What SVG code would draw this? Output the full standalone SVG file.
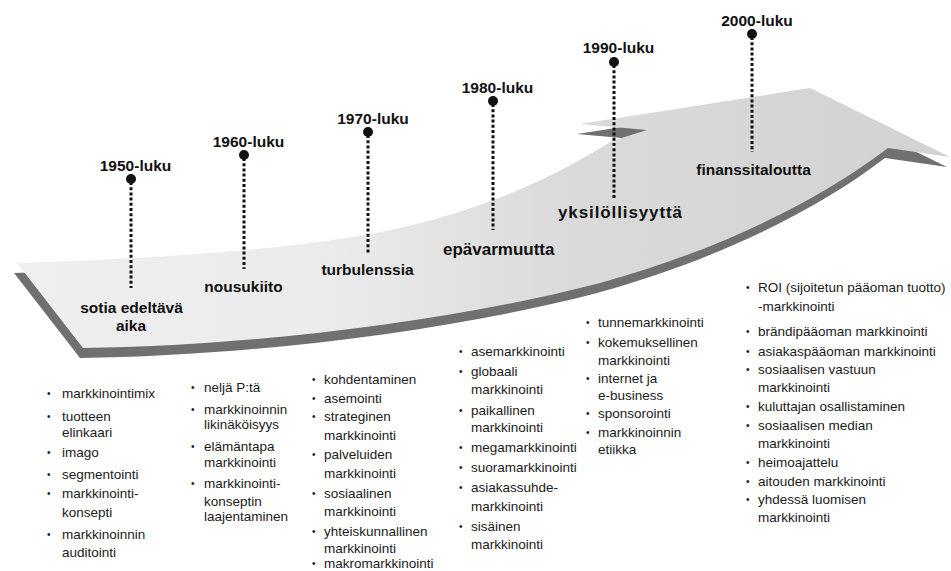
<svg xmlns="http://www.w3.org/2000/svg" xmlns:xlink="http://www.w3.org/1999/xlink" width="951" height="571" viewBox="0 0 951 571">
<defs>
<style>
.dec{font-family:"Liberation Sans",Arial,sans-serif;font-weight:bold;font-size:15.5px;fill:#111;text-anchor:middle}
.era{font-family:"Liberation Sans",Arial,sans-serif;font-weight:bold;font-size:15.5px;fill:#111;text-anchor:middle}
.eras{font-family:"Liberation Sans",Arial,sans-serif;font-weight:bold;font-size:17px;fill:#111}
.li{font-family:"Liberation Sans",Arial,sans-serif;font-size:13.5px;fill:#1a1a1a}
.bu{font-family:"Liberation Sans",Arial,sans-serif;font-size:10px;fill:#1a1a1a}
.dot{fill:#111}
.conn{stroke:#111;stroke-width:3;stroke-dasharray:3 2.2;fill:none}
</style>
<linearGradient id="surf" x1="0" y1="0" x2="951" y2="0" gradientUnits="userSpaceOnUse">
<stop offset="0" stop-color="#efefef"/>
<stop offset="0.35" stop-color="#ebebeb"/>
<stop offset="0.6" stop-color="#dadada"/>
<stop offset="1" stop-color="#d2d2d2"/>
</linearGradient>
<path id="arrowShape" d="M 17,263 C 150,259 300,250 400,228 C 480,210 550,180 612,141 L 647,130 L 580,124 L 810,88 L 950,157 L 888,148 C 820,200 720,250 600,283 C 450,322 250,346 83,348 Z"/>
</defs>
<rect width="951" height="571" fill="#ffffff"/>
<g id="arrow">
<use xlink:href="#arrowShape" fill="#707070" transform="translate(-3,10)"/>
<use xlink:href="#arrowShape" fill="url(#surf)"/>
</g>
<g id="connectors">
<line class="conn" x1="131" y1="182" x2="131" y2="288"/>
<line class="conn" x1="244" y1="158" x2="244" y2="269"/>
<line class="conn" x1="368" y1="135" x2="368" y2="253"/>
<line class="conn" x1="493" y1="104" x2="493" y2="230"/>
<line class="conn" x1="614" y1="65" x2="614" y2="198"/>
<line class="conn" x1="752" y1="37" x2="752" y2="152"/>
</g>
<g id="n1950">
<circle class="dot" cx="131" cy="179" r="5"/>
<text class="dec" x="135.5" y="171">1950-luku</text>
<text class="era" x="131.5" y="313">sotia edeltävä</text>
<text class="era" x="131" y="331">aika</text>
</g>
<g id="n1960">
<circle class="dot" cx="244" cy="155" r="5"/>
<text class="dec" x="248.5" y="147">1960-luku</text>
<text class="era" x="243.5" y="292">nousukiito</text>
</g>
<g id="n1970">
<circle class="dot" cx="368" cy="132" r="5"/>
<text class="dec" x="373" y="124">1970-luku</text>
<text class="era" x="367.5" y="275">turbulenssia</text>
</g>
<g id="n1980">
<circle class="dot" cx="493" cy="101" r="5"/>
<text class="dec" x="497.5" y="93">1980-luku</text>
<text class="eras" x="443" y="255">epävarmuutta</text>
</g>
<g id="n1990">
<circle class="dot" cx="614" cy="62" r="5"/>
<text class="dec" x="618.5" y="53">1990-luku</text>
<text class="eras" x="558" y="218" textLength="124">yksilöllisyyttä</text>
</g>
<g id="n2000">
<circle class="dot" cx="752" cy="34" r="5"/>
<text class="dec" x="757" y="26">2000-luku</text>
<text class="era" x="753.5" y="175">finanssitaloutta</text>
</g>
<g id="list1950">
<text class="bu" x="47" y="397">•</text><text class="li" x="62" y="398">markkinointimix</text>
<text class="bu" x="47" y="420">•</text><text class="li" x="62" y="421">tuotteen</text>
<text class="li" x="62" y="437">elinkaari</text>
<text class="bu" x="47" y="456">•</text><text class="li" x="62" y="457">imago</text>
<text class="bu" x="47" y="478">•</text><text class="li" x="62" y="479">segmentointi</text>
<text class="bu" x="47" y="497">•</text><text class="li" x="62" y="498">markkinointi-</text>
<text class="li" x="62" y="517">konsepti</text>
<text class="bu" x="47" y="538">•</text><text class="li" x="62" y="539">markkinoinnin</text>
<text class="li" x="62" y="557">auditointi</text>
</g>
<g id="list1960">
<text class="bu" x="191" y="391">•</text><text class="li" x="204" y="392">neljä P:tä</text>
<text class="bu" x="191" y="413">•</text><text class="li" x="204" y="414">markkinoinnin</text>
<text class="li" x="204" y="429">likinäköisyys</text>
<text class="bu" x="191" y="450">•</text><text class="li" x="204" y="451">elämäntapa</text>
<text class="li" x="204" y="467">markkinointi</text>
<text class="bu" x="191" y="487">•</text><text class="li" x="204" y="488">markkinointi-</text>
<text class="li" x="204" y="506">konseptin</text>
<text class="li" x="204" y="521">laajentaminen</text>
</g>
<g id="list1970">
<text class="bu" x="312" y="383">•</text><text class="li" x="324" y="384">kohdentaminen</text>
<text class="bu" x="312" y="402">•</text><text class="li" x="324" y="403">asemointi</text>
<text class="bu" x="312" y="420">•</text><text class="li" x="324" y="421">strateginen</text>
<text class="li" x="324" y="440">markkinointi</text>
<text class="bu" x="312" y="458">•</text><text class="li" x="324" y="459">palveluiden</text>
<text class="li" x="324" y="478">markkinointi</text>
<text class="bu" x="312" y="497">•</text><text class="li" x="324" y="498">sosiaalinen</text>
<text class="li" x="324" y="516">markkinointi</text>
<text class="bu" x="312" y="535">•</text><text class="li" x="324" y="536">yhteiskunnallinen</text>
<text class="li" x="324" y="553">markkinointi</text>
<text class="bu" x="312" y="567">•</text><text class="li" x="324" y="568">makromarkkinointi</text>
</g>
<g id="list1980">
<text class="bu" x="459" y="355">•</text><text class="li" x="471" y="356">asemarkkinointi</text>
<text class="bu" x="459" y="375">•</text><text class="li" x="471" y="376">globaali</text>
<text class="li" x="471" y="394">markkinointi</text>
<text class="bu" x="459" y="414">•</text><text class="li" x="471" y="415">paikallinen</text>
<text class="li" x="471" y="432">markkinointi</text>
<text class="bu" x="459" y="451">•</text><text class="li" x="471" y="452">megamarkkinointi</text>
<text class="bu" x="459" y="471">•</text><text class="li" x="471" y="472">suoramarkkinointi</text>
<text class="bu" x="459" y="491">•</text><text class="li" x="471" y="492">asiakassuhde-</text>
<text class="li" x="471" y="511">markkinointi</text>
<text class="bu" x="459" y="530">•</text><text class="li" x="471" y="531">sisäinen</text>
<text class="li" x="471" y="549">markkinointi</text>
</g>
<g id="list1990">
<text class="bu" x="586" y="326">•</text><text class="li" x="598" y="327">tunnemarkkinointi</text>
<text class="bu" x="586" y="346">•</text><text class="li" x="598" y="347">kokemuksellinen</text>
<text class="li" x="598" y="365">markkinointi</text>
<text class="bu" x="586" y="382">•</text><text class="li" x="598" y="383">internet ja</text>
<text class="li" x="598" y="400">e-business</text>
<text class="bu" x="586" y="417">•</text><text class="li" x="598" y="418">sponsorointi</text>
<text class="bu" x="586" y="436">•</text><text class="li" x="598" y="437">markkinoinnin</text>
<text class="li" x="598" y="454">etiikka</text>
</g>
<g id="list2000">
<text class="bu" x="746" y="291">•</text><text class="li" x="758" y="292">ROI (sijoitetun pääoman tuotto)</text>
<text class="li" x="758" y="311">-markkinointi</text>
<text class="bu" x="746" y="335">•</text><text class="li" x="758" y="336">brändipääoman markkinointi</text>
<text class="bu" x="746" y="355">•</text><text class="li" x="758" y="356">asiakaspääoman markkinointi</text>
<text class="bu" x="746" y="373">•</text><text class="li" x="758" y="374">sosiaalisen vastuun</text>
<text class="li" x="758" y="392">markkinointi</text>
<text class="bu" x="746" y="410">•</text><text class="li" x="758" y="411">kuluttajan osallistaminen</text>
<text class="bu" x="746" y="429">•</text><text class="li" x="758" y="430">sosiaalisen median</text>
<text class="li" x="758" y="448">markkinointi</text>
<text class="bu" x="746" y="466">•</text><text class="li" x="758" y="467">heimoajattelu</text>
<text class="bu" x="746" y="485">•</text><text class="li" x="758" y="486">aitouden markkinointi</text>
<text class="bu" x="746" y="503">•</text><text class="li" x="758" y="504">yhdessä luomisen</text>
<text class="li" x="758" y="522">markkinointi</text>
</g>
</svg>
